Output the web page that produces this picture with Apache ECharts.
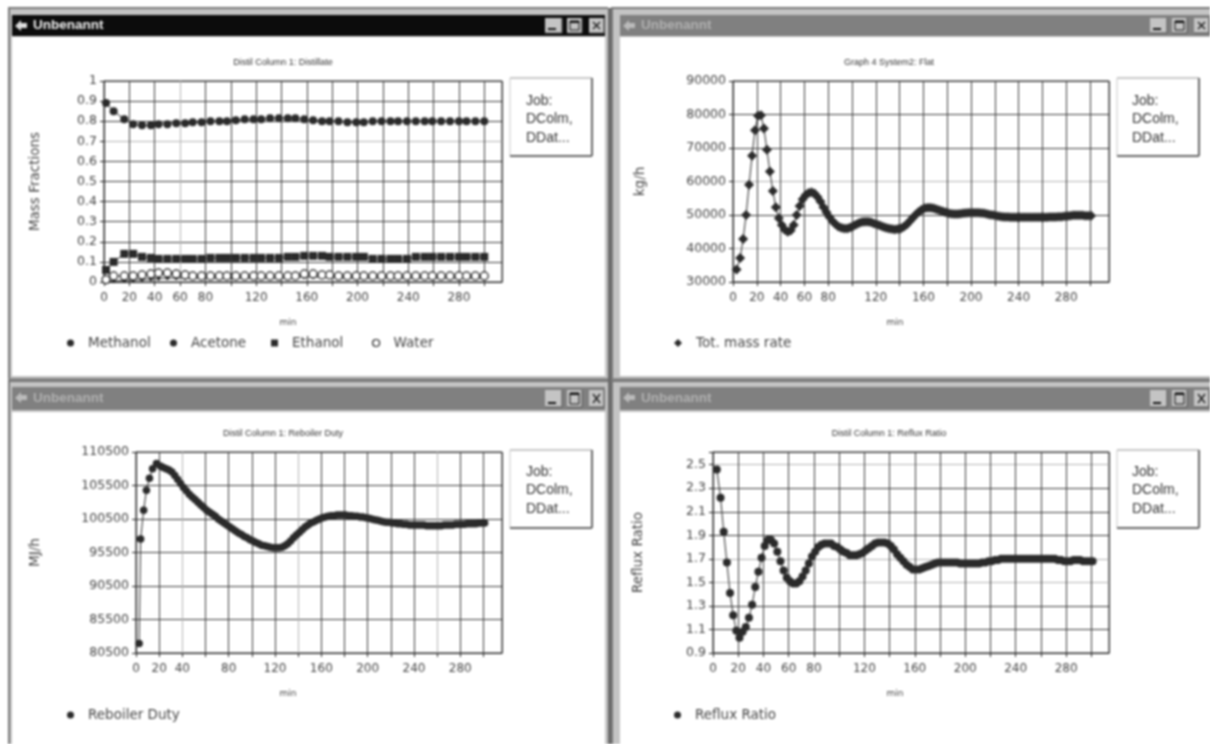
<!DOCTYPE html>
<html><head><meta charset="utf-8">
<style>html,body{margin:0;padding:0;background:#fff}#main{width:1210px;height:744px;filter:blur(0.9px)}</style>
<script src="https://cdn.jsdelivr.net/npm/echarts@6/dist/echarts.min.js"></script>
</head><body><div id="main"></div>
<script>
// ---------- data ----------
const timesSparse = [1.6,7.6,16,23,30,37,43,50,57,64,70,77,84,91,97,104,111,118,124,131,138,145,151,158,165,172,178,185,192,199,205,212,219,226,232,239,246,253,259,266,273,280,286,293,300];
const methanol = [.89,.85,.81,.785,.78,.78,.785,.785,.79,.79,.795,.795,.80,.80,.80,.805,.81,.81,.81,.815,.815,.815,.815,.81,.805,.80,.80,.80,.795,.795,.795,.80,.80,.80,.80,.80,.80,.80,.80,.80,.80,.80,.80,.80,.80];
const acetone = [.002,.004,.008,.01,.012,.015,.018,.02,.02,.02,.02,.02,.02,.02,.02,.02,.02,.02,.02,.02,.02,.02,.025,.025,.025,.025,.025,.02,.02,.02,.02,.02,.02,.02,.02,.02,.02,.02,.02,.02,.02,.02,.02,.02,.02];
const ethanol = [.06,.10,.14,.14,.125,.12,.115,.115,.115,.115,.115,.115,.12,.12,.12,.12,.12,.12,.12,.12,.12,.125,.125,.13,.13,.13,.125,.125,.125,.125,.125,.115,.115,.115,.115,.115,.125,.125,.125,.125,.125,.125,.125,.125,.125];
const water = [.012,.03,.03,.03,.035,.04,.045,.045,.04,.035,.03,.03,.03,.03,.03,.03,.03,.03,.03,.03,.03,.03,.03,.04,.04,.035,.035,.03,.03,.03,.03,.03,.03,.03,.03,.03,.03,.03,.03,.03,.03,.03,.03,.03,.03];

const timesDense = [3,6,8.5,11,13.5,16,18.5,21,23.5,26,28.5,31,33.5,36,38.5,41,43.5,46,48.5,51,53.5,56,58.5,61,63.5,66,68.5,71,73.5,76,78.5,81,83.5,86,88.5,91,93.5,96,98.5,101,103.5,106,108.5,111,113.5,116,118.5,121,123.5,126,128.5,131,133.5,136,138.5,141,143.5,146,148.5,151,153.5,156,158.5,161,163.5,166,168.5,171,173.5,176,178.5,181,183.5,186,188.5,191,193.5,196,198.5,201,203.5,206,208.5,211,213.5,216,218.5,221,223.5,226,228.5,231,233.5,236,238.5,241,243.5,246,248.5,251,253.5,256,258.5,261,263.5,266,268.5,271,273.5,276,278.5,281,283.5,286,288.5,291,293.5,296,298.5,301];
const massRate = [33700,37200,42800,50000,59000,67700,75300,79600,79800,75800,69500,63000,57200,52300,49000,47000,45600,45000,45400,47000,50000,52700,54700,55900,56600,56800,56400,55400,54000,52300,50800,49400,48200,47300,46600,46200,46000,46000,46300,46700,47200,47600,47900,48000,48000,47800,47500,47200,46900,46500,46200,46000,45800,45700,45800,46000,46500,47200,48100,49100,50100,50900,51600,52000,52200,52200,52000,51700,51400,51100,50800,50500,50400,50300,50300,50400,50500,50600,50700,50700,50700,50700,50600,50500,50300,50100,50000,49800,49600,49500,49400,49400,49300,49300,49300,49300,49300,49300,49300,49300,49300,49300,49300,49300,49300,49400,49400,49400,49500,49500,49600,49700,49800,49900,49900,49900,49900,49800,49800,49800];

const timesDuty = [2.7,4,6.6,9,11.6,14.3,17.7,21,23.5,26,28.5,31,33.5,36,38.5,41,43.5,46,48.5,51,53.5,56,58.5,61,63.5,66,68.5,71,73.5,76,78.5,81,83.5,86,88.5,91,93.5,96,98.5,101,103.5,106,108.5,111,113.5,116,118.5,121,123.5,126,128.5,131,133.5,136,138.5,141,143.5,146,148.5,151,153.5,156,158.5,161,163.5,166,168.5,171,173.5,176,178.5,181,183.5,186,188.5,191,193.5,196,198.5,201,203.5,206,208.5,211,213.5,216,218.5,221,223.5,226,228.5,231,233.5,236,238.5,241,243.5,246,248.5,251,253.5,256,258.5,261,263.5,266,268.5,271,273.5,276,278.5,281,283.5,286,288.5,291,293.5,296,298.5,301];
const reboilerDuty = [81900,97500,101800,104800,106600,108000,108800,108400,108200,108000,107800,107500,107000,106400,105800,105200,104700,104200,103800,103400,103000,102600,102200,101800,101500,101200,100900,100500,100200,99900,99600,99300,99000,98700,98400,98200,97900,97700,97400,97200,97000,96800,96600,96500,96400,96300,96200,96200,96200,96300,96500,96800,97200,97700,98100,98500,98900,99300,99600,99900,100100,100300,100500,100700,100800,100900,101000,101000,101100,101100,101100,101100,101000,101000,100900,100900,100800,100800,100700,100600,100500,100400,100300,100200,100100,100000,100000,99900,99900,99800,99800,99700,99700,99600,99600,99600,99600,99600,99600,99500,99500,99500,99500,99500,99500,99600,99600,99600,99600,99700,99700,99700,99700,99800,99800,99800,99800,99900,99900,99900];

const refluxRatio = [2.46,2.22,1.93,1.67,1.41,1.22,1.09,1.03,1.08,1.12,1.2,1.31,1.46,1.59,1.71,1.81,1.86,1.86,1.83,1.76,1.68,1.6,1.54,1.51,1.49,1.49,1.51,1.55,1.6,1.66,1.72,1.76,1.8,1.82,1.83,1.83,1.83,1.81,1.8,1.78,1.76,1.75,1.73,1.73,1.73,1.74,1.75,1.77,1.79,1.81,1.83,1.84,1.84,1.84,1.83,1.81,1.78,1.74,1.71,1.68,1.65,1.63,1.61,1.61,1.61,1.62,1.63,1.64,1.65,1.66,1.67,1.67,1.67,1.67,1.67,1.67,1.67,1.66,1.66,1.66,1.66,1.66,1.66,1.66,1.67,1.67,1.68,1.68,1.69,1.69,1.70,1.70,1.70,1.70,1.70,1.70,1.70,1.70,1.70,1.70,1.70,1.70,1.70,1.70,1.70,1.70,1.70,1.70,1.69,1.69,1.68,1.68,1.68,1.69,1.69,1.69,1.68,1.68,1.68,1.68];

const xTicksA = [0,20,40,60,80,120,160,200,240,280];
const xTicksB = [0,20,40,80,120,160,200,240,280];
const yTicksFractions = ['0','0.1','0.2','0.3','0.4','0.5','0.6','0.7','0.8','0.9','1'];
const yTicksMass = ['30000','40000','50000','60000','70000','80000','90000'];
const yTicksDuty = ['80500','85500','90500','95500','100500','105500','110500'];
const yTicksReflux = ['0.9','1.1','1.3','1.5','1.7','1.9','2.1','2.3','2.5'];

const windowTitle = 'Unbenannt';
const jobLines = ['Job:','DColm,','DDat...'];

// ---------- layout ----------
const FONT = 'DejaVu Sans';
const INK = '#2a2a2a';
const GRIDLINE = '#3c3c3c';
const FAINT = '#b4b4b4';
const panels = [
 {win:[8,8,600,370], bar:[12,15,593,21], active:true, content:[12,37,593,339],
  grid:[104,81,398,201], xMax:314, yMin:0, yMax:1, yInt:.1, xT:xTicksA, yT:yTicksFractions,
  yName:'Mass Fractions', yGap:62, nameShift:30, faintX:[3], faintY:[7],
  title:'Distil Column 1: Distillate', titleX:278, titleY:53.5,
  job:[510,78,82,78], jobX:526, jobY:101},
 {win:[611,8,599,370], bar:[620,15,590,21], active:false, content:[620,37,590,339],
  grid:[733,81,376,201], xMax:316, yMin:30000, yMax:90000, yInt:10000, xT:xTicksA, yT:yTicksMass,
  yName:'kg/h', yGap:86, nameShift:52, faintX:[], faintY:[1,3],
  title:'Graph 4 System2: Flat', titleX:884, titleY:53.5,
  job:[1117,78,82,78], jobX:1132, jobY:101},
 {win:[8,381,600,363], bar:[12,387,593,23], active:false, content:[12,412,593,332],
  grid:[136,452,366,201], xMax:316, yMin:80500, yMax:110500, yInt:5000, xT:xTicksB, yT:yTicksDuty,
  yName:'MJ/h', yGap:94, nameShift:62, faintX:[2,7,13], faintY:[],
  title:'Distil Column 1: Reboiler Duty', titleX:278, titleY:424,
  job:[510,450,82,78], jobX:526, jobY:472},
 {win:[611,381,599,363], bar:[620,387,590,23], active:false, content:[620,412,590,332],
  grid:[713,452,396,201], xMax:314, yMin:.9, yMax:2.608, yInt:.2, xT:xTicksA, yT:yTicksReflux,
  yName:'Reflux Ratio', yGap:68, nameShift:32, faintX:[], faintY:[3,4,8],
  title:'Distil Column 1: Reflux Ratio', titleX:884, titleY:424,
  job:[1117,450,82,78], jobX:1132, jobY:472}
];

const graphic = [];
const rect = (x,y,w,h,fill,extra) => graphic.push(Object.assign({type:'rect',silent:true,z:-5,shape:{x,y,width:w,height:h},style:{fill}},extra||{}));
const line = (x1,y1,x2,y2,stroke,lw) => graphic.push({type:'line',silent:true,z:-4,shape:{x1,y1,x2,y2},style:{stroke,lineWidth:lw||1}});
const text = (x,y,t,fill,font) => graphic.push({type:'text',silent:true,z:-3,x,y,style:{text:t,fill,font,verticalAlign:'middle'}});

rect(8,376,1202,6,'#8a8a8a');
rect(608,8,4,736,'#6a6a6a');
panels.forEach(p=>{
  const [wx,wy,ww,wh]=p.win, [bx,by,bw,bh]=p.bar, [cx,cy,cw,ch]=p.content;
  rect(wx,wy,ww,wh,'#c4c4c4');
  line(wx,wy,wx+ww,wy,'#777',2);
  line(wx+1,wy,wx+1,wy+wh,'#777',2);
  rect(bx,by,bw,bh,p.active?'#0c0c0c':'#808080');
  rect(cx,cy,cw,ch,'#fff');
  graphic.push({type:'polygon',silent:true,z:-3,shape:{points:[[bx+3,by+11],[bx+9,by+5],[bx+9,by+8],[bx+15,by+8],[bx+15,by+13],[bx+9,by+13],[bx+9,by+16]]},style:{fill:p.active?'#ddd':'#bbb'}});
  text(bx+21,by+bh/2,windowTitle,p.active?'#f2f2f2':'#b0b0b0','bold 13.5px "Liberation Sans"');
  const right=bx+bw;
  [[right-60,17],[right-38,15],[right-16,15]].forEach(([x,w],i)=>{
    rect(x,by+3,w,bh-6,'#c4c4c4');
    line(x,by+bh-3,x+w,by+bh-3,'#555',1);
    line(x+w,by+3,x+w,by+bh-3,'#555',1);
    if(i===0) rect(x+3,by+bh-8,8,2,'#111');
    if(i===1){ rect(x+3,by+6,9,bh-12,'#c4c4c4',{style:{fill:'#c4c4c4',stroke:'#111',lineWidth:1}}); rect(x+3,by+6,9,2,'#111'); }
    if(i===2){ line(x+4,by+7,x+11,by+bh-7,'#222',1.4); line(x+11,by+7,x+4,by+bh-7,'#222',1.4); }
  });
  const [jx,jy,jw,jh]=p.job;
  rect(jx,jy,jw,jh,'#fff');
  line(jx,jy,jx+jw,jy,'#c8c8c8',2);
  line(jx,jy,jx,jy+jh,'#c8c8c8',1);
  line(jx,jy+jh,jx+jw,jy+jh,'#666',2);
  line(jx+jw,jy,jx+jw,jy+jh,'#666',2);
  jobLines.forEach((t,i)=>text(p.jobX,p.jobY+i*18.5,t,'#333','14px "Liberation Sans"'));
});

const lineColours=(count,faint)=>Array.from({length:count},(_,k)=>faint.includes(k)?FAINT:GRIDLINE);

const grids=[],xAxes=[],yAxes=[],titles=[];
panels.forEach((p,i)=>{
  const [l,t,w,h]=p.grid;
  grids.push({left:l,top:t,width:w,height:h,show:true,borderColor:'#2a2a2a',borderWidth:1,backgroundColor:'transparent'});
  titles.push({text:p.title,left:p.titleX,top:p.titleY,textAlign:'center',textStyle:{fontFamily:'Liberation Sans',fontSize:9,fontWeight:'normal',color:'#333'}});
  xAxes.push({gridIndex:i,type:'value',min:0,max:p.xMax,interval:20,name:'min',nameLocation:'middle',nameGap:36,
    nameTextStyle:{fontFamily:FONT,fontSize:9,color:'#444',padding:[0,p.nameShift,0,0]},
    axisLine:{show:true,onZero:false,lineStyle:{color:'#222'}},axisTick:{show:true,length:4,lineStyle:{color:'#222'}},
    axisLabel:{show:true,margin:10,fontFamily:FONT,fontSize:12,color:'#444',hideOverlap:false,showMaxLabel:false,
      formatter:v=>p.xT.includes(v)?String(v):''},
    splitLine:{show:true,lineStyle:{color:lineColours(18,p.faintX),width:1}}});
  yAxes.push({gridIndex:i,type:'value',min:p.yMin,max:p.yMax,interval:p.yInt,name:p.yName,nameLocation:'middle',nameGap:p.yGap,nameRotate:90,
    nameTextStyle:{fontFamily:FONT,fontSize:13.5,color:'#444'},
    axisLine:{show:true,onZero:false,lineStyle:{color:'#222'}},axisTick:{show:true,length:4,lineStyle:{color:'#222'}},
    axisLabel:{show:true,margin:7,fontFamily:FONT,fontSize:12.5,color:'#444',
      formatter:v=>{const s=String(Math.round(v*10)/10);return p.yT.includes(s)?s:'';}},
    splitLine:{show:true,lineStyle:{color:lineColours(12,p.faintY),width:1}}});
});

const zip=(a,b)=>a.map((x,i)=>[x,b[i]]);
const mk=(name,i,xs,ys,symbol,size,extra)=>Object.assign({name,type:'line',xAxisIndex:i,yAxisIndex:i,data:zip(xs,ys),
  symbol,symbolSize:size,showAllSymbol:true,animation:false,clip:false,
  lineStyle:{color:INK,width:1},itemStyle:{color:INK}},extra||{});

const series=[
  mk('Acetone',0,timesSparse,acetone,'circle',4),
  mk('Methanol',0,timesSparse,methanol,'circle',8),
  mk('Ethanol',0,timesSparse,ethanol,'rect',8),
  mk('Water',0,timesSparse,water,'circle',8,{itemStyle:{color:'#fff',borderColor:'#222',borderWidth:1.3},lineStyle:{color:'#666',width:1}}),
  mk('Tot. mass rate',1,timesDense,massRate,'diamond',10),
  mk('Reboiler Duty',2,timesDuty,reboilerDuty,'circle',7.5),
  mk('Reflux Ratio',3,timesDense,refluxRatio,'circle',8)
];

const leg=(name,icon,left,top,size)=>({show:true,data:[{name,icon}],left,top,orient:'horizontal',padding:0,
  itemWidth:size||7,itemHeight:size||7,itemGap:0,selectedMode:false,
  textStyle:{fontFamily:FONT,fontSize:13.5,color:'#444',padding:[0,0,0,9]},
  itemStyle:name==='Water'?{color:'#fff',borderColor:'#222',borderWidth:1.2}:{color:INK,borderWidth:0},lineStyle:{width:0,opacity:0}});

const legends=[
  leg('Methanol','circle',67,336),
  leg('Acetone','circle',170,336),
  leg('Ethanol','rect',271,336),
  leg('Water','circle',372,336),
  leg('Tot. mass rate','diamond',674,336,8),
  leg('Reboiler Duty','circle',67,708),
  leg('Reflux Ratio','circle',674,708)
];

const chart=echarts.init(document.getElementById('main'),null,{renderer:'canvas'});
chart.setOption({animation:false,backgroundColor:'#fff',title:titles,grid:grids,xAxis:xAxes,yAxis:yAxes,series,legend:legends,graphic:{elements:graphic}});
</script></body></html>
